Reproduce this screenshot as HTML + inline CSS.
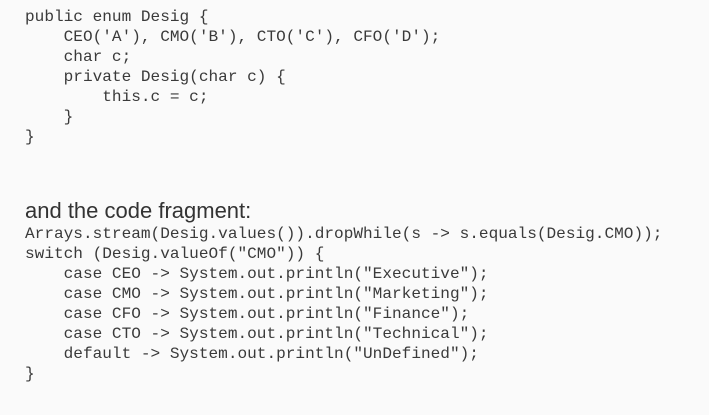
<!DOCTYPE html>
<html><head><meta charset="utf-8"><style>
html,body{margin:0;padding:0;background:#fafafa;width:709px;height:415px;overflow:hidden}
.c{position:absolute;left:25px;font-family:"Liberation Mono",monospace;font-size:16.1px;color:#3a3a3a;white-space:pre;line-height:20px}
.t{position:absolute;left:25px;top:198px;font-family:"Liberation Sans",sans-serif;font-size:22px;color:#333;line-height:26px}
</style></head><body>
<div class="c" style="top:7px">public enum Desig {
    CEO('A'), CMO('B'), CTO('C'), CFO('D');
    char c;
    private Desig(char c) {
        this.c = c;
    }
}</div>
<div class="t">and the code fragment:</div>
<div class="c" style="top:224px">Arrays.stream(Desig.values()).dropWhile(s -> s.equals(Desig.CMO));
switch (Desig.valueOf("CMO")) {
    case CEO -> System.out.println("Executive");
    case CMO -> System.out.println("Marketing");
    case CFO -> System.out.println("Finance");
    case CTO -> System.out.println("Technical");
    default -> System.out.println("UnDefined");
}</div>
</body></html>
